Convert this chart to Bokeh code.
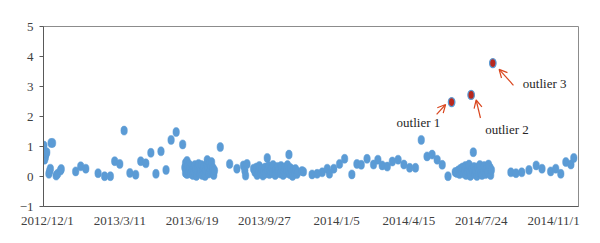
import pandas as pd
from bokeh.plotting import figure
from bokeh.models import ColumnDataSource, FixedTicker, Range1d, Label, Arrow, OpenHead
from bokeh.embed import file_html
from bokeh.resources import INLINE

# ---- data ----
tick_dates = ["2012-12-01", "2013-03-11", "2013-06-19", "2013-09-27",
              "2014-01-05", "2014-04-15", "2014-07-24", "2014-11-01"]
tick_labels = ["2012/12/1", "2013/3/11", "2013/6/19", "2013/9/27",
               "2014/1/5", "2014/4/15", "2014/7/24", "2014/11/1"]
y_ticks = [-1, 0, 1, 2, 3, 4, 5]

dates = [
    # Nov 2012 - Jun 2013
    "2012-11-26", "2012-11-27", "2012-11-28", "2012-11-29", "2012-11-30", "2012-12-03",
    "2012-12-04", "2012-12-05", "2012-12-06", "2012-12-08", "2012-12-13", "2012-12-15",
    "2012-12-19", "2012-12-20", "2013-01-09", "2013-01-16", "2013-01-23", "2013-02-09",
    "2013-02-18", "2013-02-26", "2013-03-04", "2013-03-11", "2013-03-17", "2013-03-25",
    "2013-04-02", "2013-04-09", "2013-04-16", "2013-04-23", "2013-04-30", "2013-05-07",
    "2013-05-14", "2013-05-21", "2013-05-28", "2013-06-06",
    # dense summer 2013
    "2013-06-09", "2013-06-10", "2013-06-10", "2013-06-11", "2013-06-12", "2013-06-12",
    "2013-06-13", "2013-06-14", "2013-06-15", "2013-06-16", "2013-06-17", "2013-06-18",
    "2013-06-19", "2013-06-20", "2013-06-21", "2013-06-22", "2013-06-23", "2013-06-24",
    "2013-06-25", "2013-06-26", "2013-06-27", "2013-06-28", "2013-06-29", "2013-06-30",
    "2013-07-01", "2013-07-02", "2013-07-03", "2013-07-04", "2013-07-05", "2013-07-06",
    "2013-07-07", "2013-07-08", "2013-07-09", "2013-07-10", "2013-07-11", "2013-07-12",
    "2013-07-13", "2013-07-14", "2013-07-15", "2013-07-16", "2013-07-17", "2013-07-18",
    "2013-07-19", "2013-07-20",
    "2013-07-28", "2013-08-10", "2013-08-20", "2013-08-29", "2013-08-31", "2013-09-01",
    "2013-09-03", "2013-09-12",
    # dense autumn 2013
    "2013-09-14", "2013-09-16", "2013-09-17", "2013-09-19", "2013-09-20", "2013-09-22",
    "2013-09-23", "2013-09-25", "2013-09-26", "2013-09-28", "2013-09-29", "2013-10-01",
    "2013-10-01", "2013-10-03", "2013-10-04", "2013-10-05", "2013-10-07", "2013-10-08",
    "2013-10-09", "2013-10-11", "2013-10-12", "2013-10-13", "2013-10-15", "2013-10-16",
    "2013-10-17", "2013-10-19", "2013-10-20", "2013-10-21", "2013-10-23", "2013-10-24",
    "2013-10-25", "2013-10-27", "2013-10-28", "2013-10-29", "2013-10-31", "2013-10-31",
    "2013-11-01", "2013-11-02", "2013-11-04", "2013-11-05", "2013-11-06", "2013-11-08",
    "2013-11-09", "2013-11-11", "2013-11-12",
    # Nov 2013 - Jun 2014
    "2013-11-18", "2013-11-20", "2013-12-02", "2013-12-09", "2013-12-16", "2013-12-23",
    "2013-12-26", "2014-01-01", "2014-01-09", "2014-01-16", "2014-01-26", "2014-02-02",
    "2014-02-08", "2014-02-16", "2014-02-25", "2014-03-03", "2014-03-09", "2014-03-16",
    "2014-03-23", "2014-03-31", "2014-04-08", "2014-04-16", "2014-04-24", "2014-05-02",
    "2014-05-10", "2014-05-17", "2014-05-24", "2014-05-31", "2014-06-08",
    # dense summer 2014
    "2014-06-18", "2014-06-20", "2014-06-22", "2014-06-24", "2014-06-25", "2014-06-27",
    "2014-06-28", "2014-06-30", "2014-07-01", "2014-07-02", "2014-07-03", "2014-07-05",
    "2014-07-06", "2014-07-07", "2014-07-08", "2014-07-09", "2014-07-11", "2014-07-12",
    "2014-07-13", "2014-07-14", "2014-07-15", "2014-07-16", "2014-07-18", "2014-07-19",
    "2014-07-20", "2014-07-22", "2014-07-23", "2014-07-25", "2014-07-27", "2014-07-28",
    "2014-07-30", "2014-07-31", "2014-08-02", "2014-08-03", "2014-08-05", "2014-08-06",
    "2014-08-07",
    # autumn 2014
    "2014-09-03", "2014-09-10", "2014-09-18", "2014-09-28", "2014-10-08", "2014-10-16",
    "2014-10-28", "2014-11-04", "2014-11-11", "2014-11-18", "2014-11-25", "2014-11-29",
]
values = [
    1.03, 0.56, 0.64, 0.75, 0.81, 0.09,
    0.18, 0.26, 1.12, 1.12, 0.03, 0.09,
    0.20, 0.25, 0.17, 0.34, 0.26, 0.11,
    0.01, 0.01, 0.51, 0.42, 1.53, 0.12,
    0.06, 0.51, 0.44, 0.79, 0.09, 0.84,
    0.22, 1.22, 1.48, 1.07,
    0.30, 0.12, 0.45, 0.22, 0.52, 0.08,
    0.35, 0.18, 0.40, 0.27, 0.10, 0.33,
    0.22, 0.05, 0.30, 0.15, 0.38, 0.25,
    0.02, 0.20, 0.35, 0.42, 0.12, 0.28,
    0.18, 0.38, 0.05, 0.25, 0.32, 0.14,
    0.02, 0.22, 0.40, 0.55, 0.30, 0.10,
    0.45, 0.20, 0.35, 0.48, 0.15, 0.28,
    0.05, 0.20,
    0.98, 0.42, 0.26, 0.37, 0.20, 0.03,
    0.42, 0.26,
    0.15, 0.30, 0.05, 0.22, 0.35, 0.12,
    0.25, 0.03, 0.18, 0.30, 0.10, 0.62,
    0.22, 0.35, 0.08, 0.20, 0.28, 0.12,
    0.38, 0.18, 0.05, 0.25, 0.32, 0.15,
    0.22, 0.10, 0.35, 0.28, 0.05, 0.18,
    0.30, 0.12, 0.22, 0.38, 0.73, 0.20,
    0.08, 0.28, 0.15, 0.02, 0.22, 0.12,
    0.25, 0.08, 0.15,
    0.18, 0.16, 0.07, 0.09, 0.14, 0.26,
    0.09, 0.26, 0.42, 0.59, 0.07, 0.42,
    0.39, 0.59, 0.40, 0.56, 0.37, 0.33,
    0.50, 0.56, 0.40, 0.29, 0.29, 1.22,
    0.67, 0.73, 0.56, 0.39, 0.01,
    0.15, 0.12, 0.20, 0.08, 0.25, 0.15,
    0.30, 0.10, 0.22, 0.35, 0.05, 0.18,
    0.28, 0.40, 0.12, 0.02, 0.25, 0.15,
    0.81, 0.32, 0.08, 0.20, 0.02, 0.30,
    0.15, 0.38, 0.10, 0.05, 0.20, 0.35,
    0.08, 0.25, 0.15, 0.40, 0.30, 0.05,
    0.22,
    0.14, 0.11, 0.14, 0.22, 0.37, 0.26,
    0.17, 0.26, 0.09, 0.48, 0.40, 0.62,
]
outlier_dates = ["2014-06-13", "2014-07-10", "2014-08-09"]
outlier_values = [2.48, 2.72, 3.78]
outlier_labels = ["outlier 1", "outlier 2", "outlier 3"]

# ---- styling / layout constants ----
FONT = "Liberation Serif"
BLUE = "#5B9BD5"
RED = "#B8281E"
ARROW = "#D9461E"
DAY_MS = 86400000.0
# arrow offsets relative to the outlier: (start days, start value, end days, end value)
arrow_offsets = [(-20.7, -0.41, -8.3, -0.08), (12.9, -0.77, 6.9, -0.17), (28.5, -0.74, 8.7, -0.21)]
# label offsets in screen px (x right, y up)
label_offsets = [(-55, -20), (14, -35), (30, -20)]


def ms(s):
    return (pd.Timestamp(s) - pd.Timestamp("1970-01-01")) / pd.Timedelta(milliseconds=1)


src = ColumnDataSource(dict(x=pd.to_datetime(dates), y=values))
osrc = ColumnDataSource(dict(x=pd.to_datetime(outlier_dates), y=outlier_values))

x_start = ms(tick_dates[0]) - 5.5 * DAY_MS
x_end = ms(tick_dates[0]) + 734.5 * DAY_MS

p = figure(width=600, height=243, x_axis_type="datetime",
           x_range=Range1d(x_start, x_end), y_range=Range1d(-1, 5),
           output_backend="svg", toolbar_location=None,
           min_border_left=43, min_border_right=22, min_border_top=26, min_border_bottom=37)
p.background_fill_color = "white"
p.border_fill_color = "white"
p.outline_line_color = "#8c8c8c"
p.outline_line_width = 1
p.xgrid.visible = False
p.ygrid.visible = False

p.ellipse(x="x", y="y", width=6.5, height=9, width_units="screen", height_units="screen",
          source=src, fill_color=BLUE, line_color=BLUE, line_width=0.5)
p.ellipse(x="x", y="y", width=6.5, height=9, width_units="screen", height_units="screen",
          source=osrc, fill_color=RED, line_color=BLUE, line_width=1.3)

for d, v, lab, (sdx, sdy, edx, edy), (lx, ly) in zip(outlier_dates, outlier_values, outlier_labels,
                                                     arrow_offsets, label_offsets):
    xm = ms(d)
    p.add_layout(Arrow(x_start=xm + sdx * DAY_MS, y_start=v + sdy,
                       x_end=xm + edx * DAY_MS, y_end=v + edy,
                       line_color=ARROW, line_width=1.2,
                       end=OpenHead(size=8, line_color=ARROW, line_width=1.2)))
    p.add_layout(Label(x=xm, y=v, x_offset=lx, y_offset=ly, text=lab,
                       text_font=FONT, text_font_size="13px", text_color="#262626",
                       text_align="left", text_baseline="middle"))

xa = p.xaxis[0]
xa.ticker = FixedTicker(ticks=[ms(t) for t in tick_dates])
xa.major_label_overrides = {ms(t): l for t, l in zip(tick_dates, tick_labels)}
xa.major_tick_out = 0
xa.major_tick_in = 0
xa.minor_tick_out = 0
xa.minor_tick_in = 0
xa.axis_line_color = "#595959"
xa.major_label_text_font = FONT
xa.major_label_text_font_size = "13px"
xa.major_label_text_color = "#404040"
xa.major_label_standoff = 6

ya = p.yaxis[0]
ya.ticker = FixedTicker(ticks=y_ticks)
ya.major_tick_out = 4
ya.major_tick_in = 0
ya.minor_tick_out = 0
ya.minor_tick_in = 0
ya.major_tick_line_color = "#595959"
ya.axis_line_color = "#595959"
ya.major_label_text_font = FONT
ya.major_label_text_font_size = "13px"
ya.major_label_text_color = "#404040"
ya.major_label_standoff = 6

open("out.html", "w").write(file_html(p, INLINE))
